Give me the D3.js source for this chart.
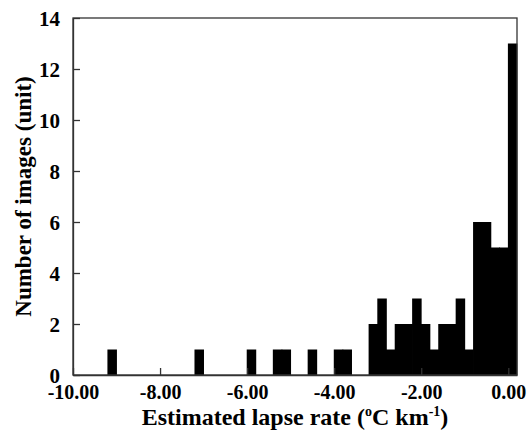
<!DOCTYPE html>
<html>
<head>
<meta charset="utf-8">
<script src="https://cdn.jsdelivr.net/npm/d3@7"></script>
<style>
  body { margin: 0; background: #fff; }
  svg text { font-family: "Liberation Serif", "Times New Roman", serif; font-weight: bold; fill: #000; }
</style>
</head>
<body>
<div id="chart"></div>
<script>
'use strict';

// lower edge of each non-empty 0.2-wide bin, and its count
var binStarts = [-9.2, -7.2, -6.0, -5.4, -5.2, -4.6, -4.0, -3.8, -3.2, -3.0, -2.8, -2.6, -2.4,
  -2.2, -2.0, -1.8, -1.6, -1.4, -1.2, -1.0, -0.8, -0.6, -0.4, -0.2, 0.0];
var counts = [1, 1, 1, 1, 1, 1, 1, 1, 2, 3, 1, 2, 2, 3, 2, 1, 2, 2, 3, 1, 6, 6, 5, 5, 13];
var binWidth = 0.2;
var xTicks = [-10, -8, -6, -4, -2, 0];
var yTicks = [0, 2, 4, 6, 8, 10, 12, 14];

var width = 527, height = 430;
var margin = {top: 18, right: 10, bottom: 55, left: 73};
var w = width - margin.left - margin.right;
var h = height - margin.top - margin.bottom;

var svg = d3.select('#chart').append('svg')
  .attr('width', width)
  .attr('height', height);

var g = svg.append('g')
  .attr('transform', 'translate(' + margin.left + ',' + margin.top + ')');

var x = d3.scaleLinear().domain([-10, 0.2]).range([0, w]);
var y = d3.scaleLinear().domain([0, 14]).range([h, 0]);

var data = binStarts.map(function(s, i) { return {x0: s, x1: s + binWidth, n: counts[i]}; });

// bars overlap a little so neighbouring bins show no seam
g.selectAll('rect.bar')
  .data(data)
  .enter().append('rect')
  .attr('class', 'bar')
  .attr('x', function(d) { return x(d.x0) - 0.4; })
  .attr('width', function(d) { return x(d.x1) - x(d.x0) + 0.8; })
  .attr('y', function(d) { return y(d.n); })
  .attr('height', function(d) { return y(0) - y(d.n); })
  .attr('fill', '#000');

// frame
g.append('rect')
  .attr('x', 0).attr('y', 0)
  .attr('width', w).attr('height', h)
  .attr('fill', 'none')
  .attr('stroke', '#333')
  .attr('stroke-width', 1.3);

var xAxis = g.append('g')
  .attr('transform', 'translate(0,' + h + ')')
  .call(d3.axisBottom(x).tickValues(xTicks).tickSizeInner(-7).tickSizeOuter(0).tickPadding(10)
    .tickFormat(function(d) { return d.toFixed(2); }));

var yAxis = g.append('g')
  .call(d3.axisLeft(y).tickValues(yTicks).tickSizeInner(-7).tickSizeOuter(0).tickPadding(13)
    .tickFormat(function(d) { return d; }));

[xAxis, yAxis].forEach(function(a) {
  a.attr('font-family', null);
  a.select('.domain').attr('stroke', '#333').attr('stroke-width', 1.3);
  a.selectAll('.tick line').attr('stroke', '#333').attr('stroke-width', 1.3);
  a.selectAll('.tick text').attr('font-size', 20).attr('fill', '#000');
});
yAxis.selectAll('.tick text').attr('font-size', 21).attr('dy', '0.36em');

// axis titles
var xt = svg.append('text')
  .attr('x', margin.left + w / 2)
  .attr('y', 425)
  .attr('text-anchor', 'middle')
  .attr('font-size', 24);
xt.append('tspan').text('Estimated lapse rate (');
xt.append('tspan').attr('font-size', 14).attr('dy', -9).text('o');
xt.append('tspan').attr('dy', 9).text('C km');
xt.append('tspan').attr('font-size', 14).attr('dy', -9).text('-1');
xt.append('tspan').attr('dy', 9).text(')');

svg.append('text')
  .attr('transform', 'translate(31,' + (margin.top + h / 2) + ') rotate(-90)')
  .attr('text-anchor', 'middle')
  .attr('font-size', 23)
  .text('Number of images (unit)');
</script>
</body>
</html>
